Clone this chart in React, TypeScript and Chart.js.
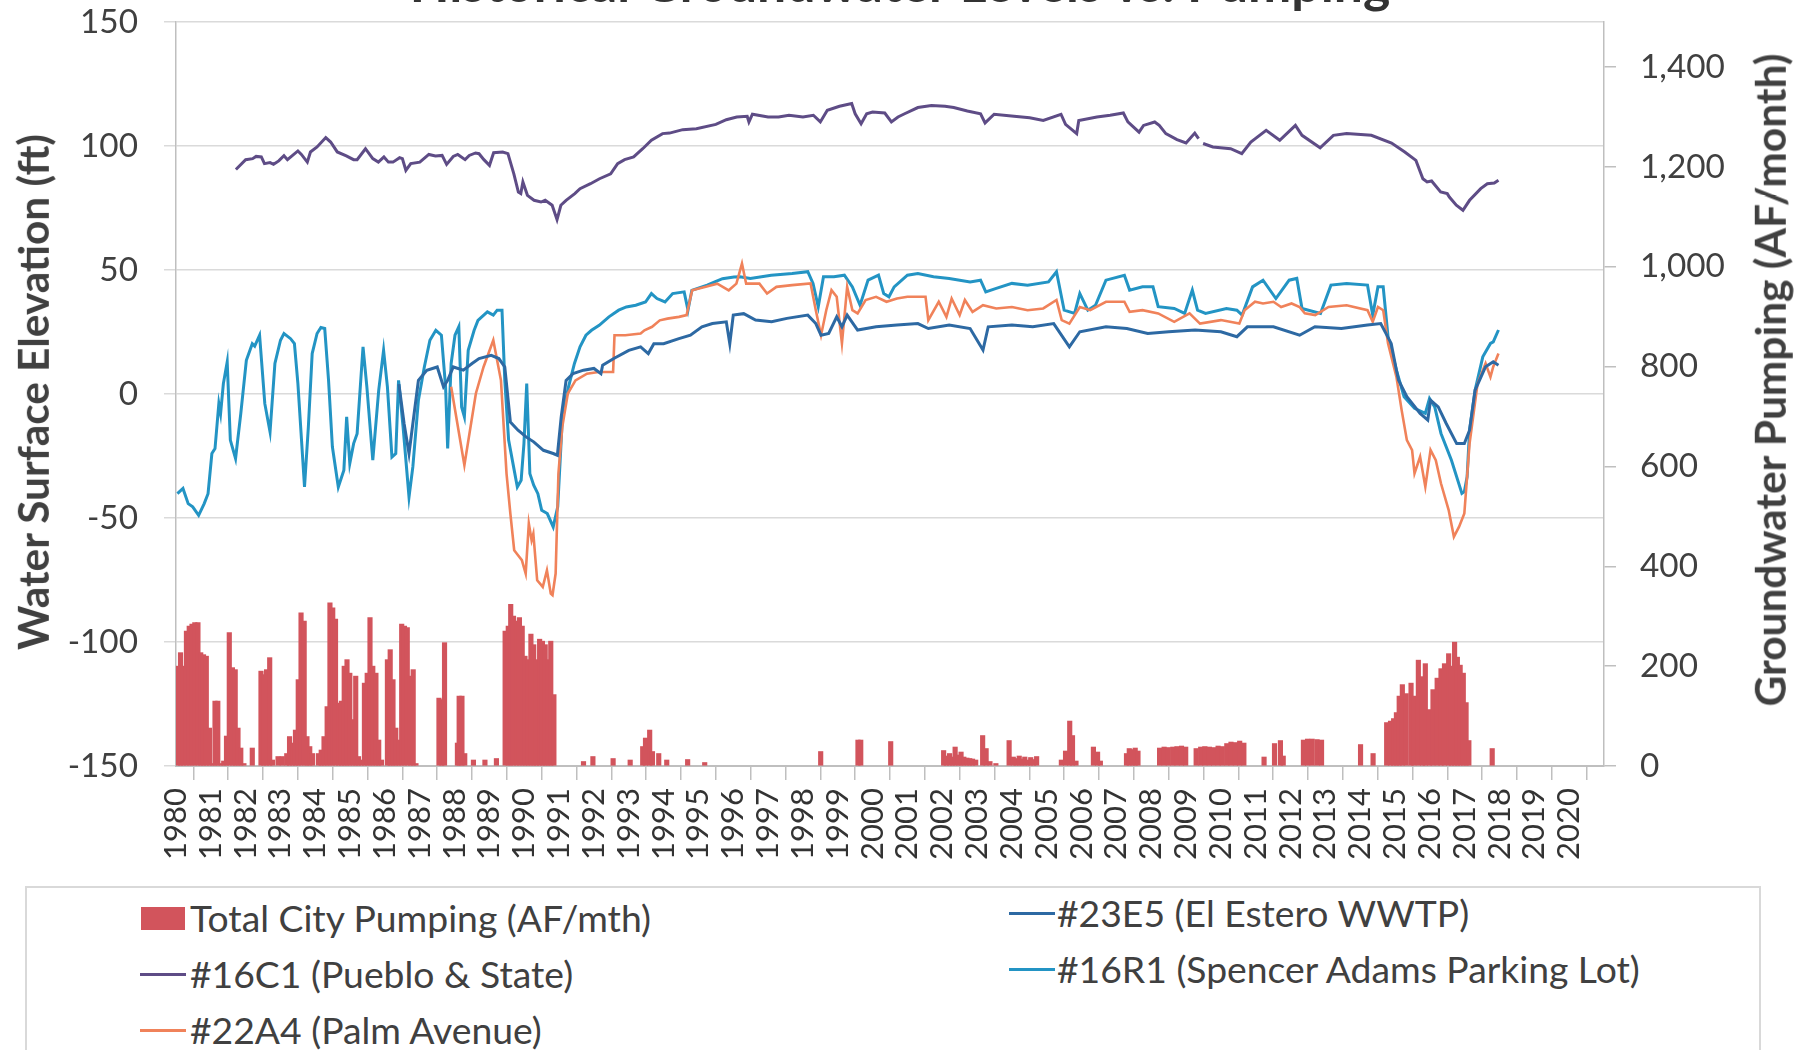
import React, { useEffect, useRef, useState } from 'react';
import { Chart, registerables } from 'chart.js';

Chart.register(...registerables);

// ---------------- DATA ----------------
const yearLabels = [
  1980, 1981, 1982, 1983, 1984, 1985, 1986, 1987, 1988, 1989, 1990, 1991, 1992, 1993,
  1994, 1995, 1996, 1997, 1998, 1999, 2000, 2001, 2002, 2003, 2004, 2005, 2006, 2007,
  2008, 2009, 2010, 2011, 2012, 2013, 2014, 2015, 2016, 2017, 2018, 2019, 2020,
];
const elevationTicks = [-150, -100, -50, 0, 50, 100, 150];
const pumpingTicks = [0, 200, 400, 600, 800, 1000, 1200, 1400];

const chartTitle = 'Historical Groundwater Levels vs. Pumping';
const leftTitle = 'Water Surface Elevation (ft)';
const rightTitle = 'Groundwater Pumping (AF/month)';

const seriesNames = {
  pumping: 'Total City Pumping (AF/mth)',
  w16C1: '#16C1 (Pueblo & State)',
  w22A4: '#22A4 (Palm Avenue)',
  w23E5: '#23E5 (El Estero WWTP)',
  w16R1: '#16R1 (Spencer Adams Parking Lot)',
};

// Total City Pumping (AF/month) : [year, value]
const pumping: [number, number][] = [
  [1980.05, 200], [1980.13, 227], [1980.21, 200], [1980.30, 270], [1980.38, 280], [1980.46, 284],
  [1980.54, 287], [1980.63, 287], [1980.71, 227], [1980.79, 223], [1980.87, 220], [1980.96, 76],
  [1981.04, 5], [1981.12, 130], [1981.20, 130], [1981.29, 5], [1981.37, 10], [1981.45, 60],
  [1981.53, 267], [1981.62, 197], [1981.70, 193], [1981.78, 76], [1981.86, 36], [1981.95, 5],
  [1982.19, 36], [1982.44, 190], [1982.52, 183], [1982.60, 193], [1982.69, 217], [1982.77, 12],
  [1982.93, 19], [1983.05, 19], [1983.18, 25], [1983.26, 59], [1983.35, 46], [1983.43, 72],
  [1983.51, 173], [1983.59, 307], [1983.68, 290], [1983.76, 59], [1983.84, 39], [1983.92, 25],
  [1984.09, 25], [1984.17, 32], [1984.25, 59], [1984.34, 119], [1984.42, 327], [1984.50, 317],
  [1984.58, 294], [1984.67, 126], [1984.75, 130], [1984.83, 200], [1984.91, 213], [1984.99, 186],
  [1985.08, 93], [1985.16, 180], [1985.24, 19], [1985.32, 12], [1985.41, 166], [1985.49, 186],
  [1985.57, 297], [1985.65, 200], [1985.74, 186], [1985.82, 52], [1985.90, 12], [1986.07, 213],
  [1986.15, 233], [1986.23, 173], [1986.31, 76], [1986.40, 52], [1986.48, 284], [1986.56, 280],
  [1986.64, 277], [1986.73, 180], [1986.81, 193], [1986.89, 5], [1987.55, 136], [1987.63, 133],
  [1987.71, 247], [1988.08, 46], [1988.13, 140], [1988.21, 140], [1988.29, 25], [1988.54, 12],
  [1988.87, 12], [1989.20, 15], [1989.45, 270], [1989.54, 280], [1989.61, 324], [1989.69, 300],
  [1989.78, 290], [1989.86, 297], [1989.94, 280], [1990.02, 220], [1990.11, 213], [1990.19, 264],
  [1990.27, 243], [1990.35, 213], [1990.44, 254], [1990.52, 250], [1990.60, 243], [1990.68, 213],
  [1990.76, 250], [1990.85, 143],
  [1991.70, 9], [1991.97, 19], [1992.55, 15], [1993.04, 12], [1993.40, 39], [1993.48, 56],
  [1993.60, 72], [1993.68, 29], [1993.86, 25], [1994.09, 12], [1994.69, 13], [1995.18, 7],
  [1998.51, 29], [1999.58, 52], [1999.66, 52], [2000.52, 49],
  [2002.04, 31], [2002.12, 20], [2002.21, 25], [2002.29, 18], [2002.37, 38], [2002.46, 22],
  [2002.54, 28], [2002.62, 18], [2002.71, 16], [2002.79, 15], [2002.87, 14], [2002.96, 12],
  [2003.16, 61], [2003.26, 35], [2003.37, 9], [2003.54, 5], [2003.92, 51], [2004.04, 18],
  [2004.12, 15], [2004.21, 20], [2004.29, 14], [2004.37, 18], [2004.46, 12], [2004.54, 17],
  [2004.62, 13], [2004.71, 19], [2005.42, 12], [2005.54, 30], [2005.66, 90], [2005.74, 61],
  [2005.84, 10], [2006.34, 38], [2006.46, 28], [2006.54, 10], [2007.29, 25], [2007.37, 35],
  [2007.46, 33], [2007.54, 36], [2007.62, 30], [2008.24, 36], [2008.37, 38], [2008.49, 37],
  [2008.62, 38], [2008.74, 39], [2008.87, 40], [2008.99, 38], [2009.29, 35], [2009.42, 38],
  [2009.54, 39], [2009.67, 38], [2009.79, 37], [2009.92, 40], [2010.04, 39], [2010.17, 45],
  [2010.29, 48], [2010.42, 47], [2010.54, 50], [2010.66, 46], [2011.24, 18], [2011.54, 45],
  [2011.71, 51], [2011.79, 20], [2012.37, 52], [2012.49, 54], [2012.62, 54], [2012.76, 53],
  [2012.89, 52], [2014.01, 43], [2014.37, 25], [2014.76, 87], [2014.87, 90], [2014.96, 95],
  [2015.04, 107], [2015.12, 140], [2015.21, 163], [2015.32, 145], [2015.46, 166], [2015.54, 140],
  [2015.67, 212], [2015.79, 179], [2015.87, 205], [2015.99, 113], [2016.09, 153], [2016.21, 176],
  [2016.32, 195], [2016.42, 205], [2016.54, 225], [2016.62, 200], [2016.71, 248], [2016.79, 218],
  [2016.87, 202], [2016.96, 186], [2017.04, 127], [2017.12, 51], [2017.79, 35],
];

// #16C1 (Pueblo & State) water surface elevation (ft)
const well16C1: [number, number | null][] = [
  [1981.72, 90.5], [1982.0, 94.5], [1982.2, 94.9], [1982.3, 95.8], [1982.45, 95.6], [1982.54, 92.9],
  [1982.7, 93.3], [1982.8, 92.6], [1982.95, 94.0], [1983.1, 96.1], [1983.2, 94.5], [1983.5, 98.0],
  [1983.6, 96.6], [1983.77, 93.5], [1983.86, 97.6], [1984.05, 99.6], [1984.3, 103.4], [1984.44, 101.6],
  [1984.63, 97.6], [1984.89, 96.0], [1985.1, 94.5], [1985.2, 94.5], [1985.44, 98.9], [1985.65, 94.9],
  [1985.81, 93.5], [1985.97, 95.6], [1986.1, 93.5], [1986.23, 93.5], [1986.42, 95.3], [1986.5, 94.9],
  [1986.6, 90.2], [1986.74, 92.9], [1987.0, 93.5], [1987.26, 96.6], [1987.45, 96.0], [1987.64, 96.2],
  [1987.77, 92.6], [1987.96, 95.8], [1988.09, 96.6], [1988.3, 94.5], [1988.42, 96.2], [1988.6, 97.2],
  [1988.7, 96.9], [1988.84, 94.5], [1989.0, 92.2], [1989.12, 97.3], [1989.38, 97.6], [1989.53, 96.9],
  [1989.7, 88.8], [1989.83, 81.4], [1989.9, 80.8], [1989.96, 85.5], [1990.09, 80.1], [1990.28, 78.1],
  [1990.48, 77.4], [1990.6, 78.1], [1990.8, 76.1], [1990.94, 70.3], [1991.05, 76.1], [1991.2, 78.1],
  [1991.45, 80.8], [1991.6, 82.8], [1991.9, 84.8], [1992.16, 86.8], [1992.48, 88.8], [1992.68, 92.9],
  [1992.88, 94.5], [1993.14, 95.6], [1993.4, 98.9], [1993.65, 102.3], [1993.97, 105.0], [1994.17, 105.2],
  [1994.55, 106.6], [1994.94, 107.0], [1995.5, 108.7], [1995.8, 110.6], [1996.1, 111.7], [1996.4, 112.0],
  [1996.45, 109.7], [1996.55, 112.8], [1997.0, 111.7], [1997.3, 111.7], [1997.6, 112.4], [1998.0, 111.7],
  [1998.3, 112.4], [1998.5, 109.7], [1998.7, 114.4], [1999.05, 116.0], [1999.4, 117.1], [1999.5, 113.0],
  [1999.67, 109.0], [1999.83, 113.0], [2000.0, 113.7], [2000.35, 113.3], [2000.54, 109.7], [2000.73, 111.7],
  [2000.92, 113.0], [2001.3, 115.5], [2001.69, 116.3], [2002.08, 116.0], [2002.33, 115.5], [2002.72, 114.1],
  [2003.1, 113.0], [2003.23, 109.3], [2003.49, 112.8], [2004.06, 112.0], [2004.51, 111.4], [2004.9, 110.3],
  [2005.41, 112.8], [2005.54, 108.7], [2005.86, 105.0], [2005.92, 110.3], [2006.44, 111.7], [2006.82, 112.4],
  [2007.2, 113.3], [2007.33, 109.7], [2007.65, 105.6], [2007.78, 108.3], [2008.1, 109.7], [2008.23, 108.3],
  [2008.42, 105.0], [2008.74, 102.6], [2009.0, 101.2], [2009.25, 105.2], [2009.36, 103.0], [2009.42, null],
  [2009.49, 101.0], [2009.77, 99.6], [2010.28, 98.9], [2010.6, 96.9], [2010.86, 101.6], [2011.3, 106.3],
  [2011.69, 102.3], [2012.14, 108.3], [2012.33, 104.3], [2012.85, 99.3], [2013.23, 104.3], [2013.61, 105.0],
  [2014.32, 104.3], [2014.9, 101.2], [2015.28, 97.6], [2015.6, 94.2], [2015.8, 86.8], [2015.92, 85.5],
  [2016.05, 85.9], [2016.31, 81.5], [2016.5, 80.8], [2016.56, 79.4], [2016.76, 76.1], [2016.95, 74.1],
  [2017.14, 78.1], [2017.46, 82.8], [2017.65, 84.8], [2017.85, 85.1], [2017.97, 86.2],
];

// #22A4 (Palm Avenue)
const well22A4: [number, number][] = [
  [1987.9, 2.9], [1988.28, -28.7], [1988.61, 0.2], [1988.83, 10.9], [1989.11, 21.7], [1989.33, 5.5],
  [1989.49, -32.1], [1989.6, -48.2], [1989.71, -63.0], [1989.82, -65.0], [1989.93, -67.0], [1990.04, -72.4],
  [1990.13, -52.2], [1990.21, -59.0], [1990.26, -56.3], [1990.37, -75.1], [1990.53, -77.8], [1990.65, -71.1],
  [1990.76, -80.5], [1990.81, -81.1], [1990.9, -72.4], [1990.98, -32.1], [1991.09, -13.3], [1991.25, 0.2],
  [1991.47, 5.5], [1991.8, 8.2], [1992.13, 8.9], [1992.46, 8.9], [1992.55, 8.9], [1992.59, 23.7],
  [1992.9, 23.7], [1993.34, 24.4], [1993.45, 25.7], [1993.67, 27.1], [1993.89, 29.7], [1994.11, 30.4],
  [1994.44, 31.1], [1994.66, 31.8], [1994.82, 41.8], [1995.21, 43.2], [1995.54, 44.5], [1995.87, 41.8],
  [1996.09, 44.5], [1996.25, 52.6], [1996.37, 44.5], [1996.75, 44.5], [1996.97, 40.5], [1997.24, 43.2],
  [1997.69, 43.9], [1998.22, 44.6], [1998.37, 33.8], [1998.52, 23.7], [1998.67, 33.8], [1998.82, 41.9],
  [1998.97, 39.2], [1999.12, 20.4], [1999.27, 43.2], [1999.42, 33.8], [1999.57, 32.5], [1999.8, 37.9],
  [2000.1, 39.2], [2000.4, 37.2], [2000.7, 38.5], [2001.0, 39.2], [2001.52, 39.2], [2001.6, 29.8],
  [2001.9, 37.2], [2002.12, 31.1], [2002.27, 38.5], [2002.5, 31.8], [2002.65, 37.9], [2002.87, 33.1],
  [2003.17, 35.8], [2003.55, 34.5], [2004.0, 35.1], [2004.45, 33.8], [2004.9, 34.5], [2005.28, 37.9],
  [2005.43, 29.8], [2005.65, 28.4], [2005.95, 35.1], [2006.25, 33.8], [2006.7, 37.2], [2007.23, 37.2],
  [2007.38, 33.1], [2007.75, 33.8], [2008.2, 32.5], [2008.66, 29.1], [2009.1, 32.5], [2009.4, 28.4],
  [2010.0, 29.8], [2010.53, 28.4], [2010.68, 33.8], [2010.98, 37.2], [2011.21, 36.5], [2011.51, 37.2],
  [2011.73, 35.1], [2012.03, 36.5], [2012.26, 35.1], [2012.41, 32.5], [2012.71, 31.8], [2013.09, 35.1],
  [2013.61, 35.8], [2014.21, 33.8], [2014.36, 29.1], [2014.51, 35.1], [2014.66, 33.8], [2014.8, 20.4],
  [2015.04, 6.9], [2015.19, -6.5], [2015.34, -18.6], [2015.49, -22.6], [2015.56, -32.0], [2015.72, -25.3],
  [2015.87, -37.4], [2016.02, -22.6], [2016.17, -26.7], [2016.32, -36.1], [2016.54, -46.8], [2016.69, -57.6],
  [2016.84, -53.5], [2016.99, -48.2], [2017.14, -20.0], [2017.37, 4.2], [2017.6, 12.3], [2017.74, 6.9],
  [2017.82, 11.0], [2017.97, 16.3],
];

// #23E5 (El Estero WWTP)
const well23E5: [number, number][] = [
  [1986.4, 4.0], [1986.55, -12.0], [1986.69, -24.0], [1986.96, 5.5], [1987.2, 9.6], [1987.5, 10.9],
  [1987.68, 2.9], [1987.8, 5.5], [1987.96, 10.9], [1988.25, 9.6], [1988.5, 12.3], [1988.7, 14.3],
  [1989.05, 15.6], [1989.27, 14.3], [1989.44, 10.9], [1989.6, -11.3], [1989.82, -14.6], [1990.05, -17.3],
  [1990.27, -19.3], [1990.55, -22.7], [1990.83, -24.0], [1990.95, -24.7], [1991.06, -9.2], [1991.2, 5.5],
  [1991.4, 8.2], [1991.7, 9.6], [1992.0, 10.3], [1992.2, 8.2], [1992.25, 11.6], [1992.57, 14.3],
  [1993.0, 17.6], [1993.34, 19.0], [1993.56, 16.3], [1993.72, 20.3], [1994.0, 20.3], [1994.44, 22.3],
  [1994.77, 23.7], [1995.1, 27.1], [1995.4, 28.4], [1995.8, 29.1], [1995.9, 20.3], [1996.0, 31.8],
  [1996.3, 32.4], [1996.64, 29.8], [1997.1, 29.1], [1997.54, 30.5], [1998.14, 31.8], [1998.37, 28.4],
  [1998.52, 23.7], [1998.74, 24.4], [1998.97, 31.1], [1999.12, 27.1], [1999.27, 31.8], [1999.57, 25.8],
  [2000.1, 27.1], [2000.7, 27.8], [2001.3, 28.4], [2001.6, 26.4], [2002.2, 27.8], [2002.8, 26.4],
  [2003.17, 17.7], [2003.32, 27.1], [2004.0, 27.8], [2004.6, 27.1], [2005.2, 28.4], [2005.65, 19.0],
  [2005.95, 25.1], [2006.7, 27.1], [2007.3, 26.4], [2007.9, 24.4], [2008.5, 25.1], [2009.26, 25.8],
  [2010.0, 25.1], [2010.46, 23.1], [2010.76, 27.1], [2011.51, 27.1], [2012.26, 23.7], [2012.7, 27.1],
  [2013.46, 26.4], [2014.21, 27.8], [2014.59, 28.4], [2014.89, 20.4], [2015.04, 9.6], [2015.1, 5.6],
  [2015.34, -1.1], [2015.72, -7.8], [2015.94, -10.5], [2016.02, -2.5], [2016.24, -5.2], [2016.47, -11.9],
  [2016.77, -20.0], [2016.99, -20.0], [2017.14, -14.6], [2017.3, 1.6], [2017.6, 11.0], [2017.82, 13.0],
  [2017.97, 11.6],
];

// #16R1 (Spencer Adams Parking Lot)
const well16R1: [number, number][] = [
  [1980.04, -40.2], [1980.2, -38.1], [1980.35, -44.2], [1980.48, -45.5], [1980.65, -48.9], [1980.81, -44.2],
  [1980.92, -40.2], [1981.03, -24.0], [1981.12, -22.0], [1981.23, -3.9], [1981.28, -7.9], [1981.36, 4.2],
  [1981.47, 12.9], [1981.56, -18.6], [1981.71, -26.0], [1981.86, -7.9], [1982.02, 13.6], [1982.19, 20.3],
  [1982.26, 19.3], [1982.4, 23.7], [1982.55, -3.9], [1982.7, -15.3], [1982.84, 12.3], [1983.0, 21.7],
  [1983.1, 24.4], [1983.29, 22.3], [1983.4, 20.3], [1983.5, 4.2], [1983.69, -37.5], [1983.8, -13.3],
  [1983.91, 16.3], [1984.05, 24.4], [1984.16, 26.8], [1984.27, 26.4], [1984.38, 5.5], [1984.49, -21.3],
  [1984.66, -37.5], [1984.82, -30.7], [1984.9, -9.2], [1984.99, -28.0], [1985.1, -20.0], [1985.2, -16.0],
  [1985.37, 19.0], [1985.48, 2.9], [1985.65, -26.7], [1985.82, 1.5], [1985.96, 17.6], [1986.07, 2.9],
  [1986.2, -25.4], [1986.31, -24.0], [1986.39, 5.5], [1986.52, -13.3], [1986.69, -41.5], [1986.8, -29.4],
  [1986.96, -2.5], [1987.13, 10.9], [1987.29, 21.7], [1987.46, 25.7], [1987.62, 23.7], [1987.74, 2.9],
  [1987.8, -22.0], [1987.9, 12.3], [1988.01, 23.7], [1988.12, 27.1], [1988.2, -5.2], [1988.28, -9.2],
  [1988.39, 17.6], [1988.56, 25.7], [1988.67, 29.7], [1988.78, 31.1], [1988.94, 33.1], [1989.11, 31.8],
  [1989.22, 33.8], [1989.36, 33.8], [1989.44, 5.5], [1989.55, -18.6], [1989.71, -30.7], [1989.8, -37.5],
  [1989.91, -34.8], [1989.99, -20.0], [1990.07, 4.2], [1990.16, -32.1], [1990.27, -36.8], [1990.39, -40.2],
  [1990.5, -46.9], [1990.66, -48.2], [1990.83, -53.6], [1990.96, -45.5], [1991.1, -7.9], [1991.27, 2.9],
  [1991.44, 12.3], [1991.6, 19.0], [1991.77, 23.7], [1991.93, 25.7], [1992.15, 27.7], [1992.43, 31.1],
  [1992.71, 33.8], [1992.93, 35.1], [1993.2, 35.8], [1993.48, 37.1], [1993.65, 40.5], [1993.81, 38.5],
  [1994.04, 37.1], [1994.26, 40.5], [1994.59, 41.2], [1994.7, 33.8], [1994.81, 41.8], [1995.25, 43.9],
  [1995.47, 45.2], [1995.69, 46.5], [1996.02, 47.2], [1996.19, 47.3], [1996.49, 46.6], [1997.09, 47.9],
  [1997.69, 48.6], [1998.14, 49.3], [1998.29, 44.6], [1998.44, 35.2], [1998.59, 47.3], [1998.89, 47.3],
  [1999.19, 47.9], [1999.42, 43.2], [1999.64, 35.8], [1999.87, 45.9], [2000.17, 47.9], [2000.32, 40.5],
  [2000.47, 39.2], [2000.62, 43.2], [2001.0, 47.9], [2001.3, 48.6], [2001.75, 47.3], [2002.2, 46.6],
  [2002.8, 45.2], [2003.1, 45.9], [2003.25, 41.2], [2003.55, 42.6], [2004.0, 44.6], [2004.45, 43.9],
  [2005.05, 45.2], [2005.28, 49.3], [2005.5, 33.8], [2005.8, 32.5], [2005.95, 40.5], [2006.18, 33.8],
  [2006.4, 35.8], [2006.7, 45.9], [2007.23, 47.9], [2007.38, 41.9], [2007.75, 43.2], [2008.05, 43.2],
  [2008.2, 35.2], [2008.66, 34.5], [2008.96, 32.5], [2009.18, 41.9], [2009.33, 33.8], [2009.56, 32.5],
  [2010.16, 34.5], [2010.46, 33.8], [2010.61, 31.8], [2010.91, 43.2], [2011.21, 45.9], [2011.58, 38.5],
  [2011.96, 45.9], [2012.18, 46.6], [2012.33, 34.5], [2012.86, 32.5], [2013.16, 43.9], [2013.61, 44.6],
  [2014.21, 43.9], [2014.36, 31.8], [2014.51, 43.2], [2014.66, 43.2], [2014.8, 23.0], [2015.04, 9.6],
  [2015.26, -1.1], [2015.56, -5.8], [2015.87, -7.8], [2015.99, -1.8], [2016.14, -5.2], [2016.32, -15.9],
  [2016.62, -26.7], [2016.92, -40.1], [2016.99, -39.4], [2017.07, -33.4], [2017.14, -14.6], [2017.3, 1.6],
  [2017.52, 15.0], [2017.74, 20.4], [2017.82, 21.0], [2017.97, 25.8],
];

// ---------------- STYLE ----------------
const W = 1810;
const H_CANVAS = 880;
const PLOT_LEFT = 176;
const PLOT_RIGHT = 1604;
const PLOT_TOP = 22;
const PLOT_BOTTOM = 766;

const COLORS = {
  bar: '#D2545C',
  w16C1: '#5E4C86',
  w22A4: '#F0825A',
  w23E5: '#2D69A3',
  w16R1: '#2394C4',
  text: '#404040',
  grid: '#dadada',
  axis: '#bfbfbf',
};

const FAMILY = 'Lato';

function fitSize(text: string, weight: string, target: number): number {
  const c = document.createElement('canvas').getContext('2d');
  if (!c) return 30;
  c.font = `${weight} 100px ${FAMILY}`;
  const w = c.measureText(text).width;
  return (100 * target) / w;
}

const toXY = (arr: [number, number | null][]) => arr.map(([x, y]) => ({ x, y }));

const noVerticalPadding = (s: any) => {
  s.paddingTop = 0;
  s.paddingBottom = 0;
};

export default function App() {
  const canvasRef = useRef<HTMLCanvasElement | null>(null);
  const [sizes, setSizes] = useState<Record<string, number> | null>(null);

  useEffect(() => {
    document.body.style.margin = '0';
    document.body.style.overflow = 'hidden';
    document.body.style.background = '#ffffff';
    const legendTargets: [string, number][] = [
      [seriesNames.pumping, 472],
      [seriesNames.w16C1, 384],
      [seriesNames.w22A4, 356],
      [seriesNames.w23E5, 400],
      [seriesNames.w16R1, 585],
    ];
    const legend =
      legendTargets.reduce((s, [t, w]) => s + fitSize(t, 'normal', w), 0) / legendTargets.length;
    setSizes({
      title: fitSize(chartTitle, 'bold', 983),
      left: fitSize(leftTitle, 'bold', 517),
      right: fitSize(rightTitle, 'bold', 654),
      legend,
      xTick: fitSize('1980', 'normal', 72),
      yTick: fitSize('150', 'normal', 58),
    });
  }, []);

  useEffect(() => {
    if (!sizes || !canvasRef.current) return;
    const chart = new Chart(canvasRef.current, {
      type: 'line',
      data: {
        datasets: [
          {
            type: 'bar',
            label: seriesNames.pumping,
            data: toXY(pumping) as any,
            yAxisID: 'y2',
            xAxisID: 'x',
            backgroundColor: COLORS.bar,
            borderWidth: 0,
            barThickness: 4.5,
            grouped: false,
            order: 10,
          } as any,
          {
            label: seriesNames.w16C1,
            data: toXY(well16C1) as any,
            yAxisID: 'y',
            borderColor: COLORS.w16C1,
            borderWidth: 3,
            pointRadius: 0,
            spanGaps: false,
            order: 1,
          },
          {
            label: seriesNames.w22A4,
            data: toXY(well22A4) as any,
            yAxisID: 'y',
            borderColor: COLORS.w22A4,
            borderWidth: 2.6,
            pointRadius: 0,
            order: 3,
          },
          {
            label: seriesNames.w23E5,
            data: toXY(well23E5) as any,
            yAxisID: 'y',
            borderColor: COLORS.w23E5,
            borderWidth: 3,
            pointRadius: 0,
            order: 2,
          },
          {
            label: seriesNames.w16R1,
            data: toXY(well16R1) as any,
            yAxisID: 'y',
            borderColor: COLORS.w16R1,
            borderWidth: 3,
            pointRadius: 0,
            order: 4,
          },
        ],
      },
      options: {
        responsive: false,
        animation: false,
        devicePixelRatio: 1,
        layout: { padding: { top: PLOT_TOP, left: 0, right: 0, bottom: 0 } },
        plugins: {
          legend: { display: false },
          tooltip: { enabled: false },
          title: { display: false },
        },
        elements: { line: { tension: 0 } },
        scales: {
          x: {
            type: 'linear',
            min: 1980,
            max: 2021,
            offset: false,
            afterBuildTicks: (s: any) => {
              s.ticks = yearLabels.map((v) => ({ value: v }));
            },
            afterFit: (s: any) => {
              s.height = H_CANVAS - PLOT_BOTTOM;
            },
            ticks: {
              autoSkip: false,
              minRotation: 90,
              maxRotation: 90,
              padding: 8,
              color: '#333333',
              font: { family: FAMILY, size: sizes.xTick },
              callback: (v: any) => String(v),
            },
            grid: {
              drawOnChartArea: false,
              drawTicks: true,
              tickLength: 14,
              color: COLORS.axis,
              lineWidth: 1.5,
            },
            border: { display: true, color: COLORS.axis, width: 2 },
          },
          y: {
            type: 'linear',
            position: 'left',
            min: -150,
            max: 150,
            afterBuildTicks: (s: any) => {
              s.ticks = elevationTicks.map((v) => ({ value: v }));
            },
            afterFit: (s: any) => {
              s.width = PLOT_LEFT;
              noVerticalPadding(s);
            },
            ticks: {
              padding: 26,
              color: COLORS.text,
              font: { family: FAMILY, size: sizes.yTick },
              callback: (v: any) => String(v),
            },
            grid: {
              color: COLORS.grid,
              lineWidth: 1.5,
              tickLength: 12,
              drawTicks: true,
            },
            border: { display: true, color: COLORS.axis, width: 1.5 },
          },
          y2: {
            type: 'linear',
            position: 'right',
            min: 0,
            max: 1490,
            afterBuildTicks: (s: any) => {
              s.ticks = pumpingTicks.map((v) => ({ value: v }));
            },
            afterFit: (s: any) => {
              s.width = W - PLOT_RIGHT;
              noVerticalPadding(s);
            },
            ticks: {
              padding: 24,
              color: COLORS.text,
              font: { family: FAMILY, size: sizes.yTick },
              callback: (v: any) => Number(v).toLocaleString('en-US'),
            },
            grid: {
              drawOnChartArea: false,
              drawTicks: true,
              tickLength: 12,
              color: COLORS.axis,
              lineWidth: 1.5,
            },
            border: { display: true, color: COLORS.axis, width: 1.5 },
          },
        },
      } as any,
    });
    return () => chart.destroy();
  }, [sizes]);

  const s = sizes;
  const legendText = (left: number, cy: number): React.CSSProperties => ({
    position: 'absolute',
    left,
    top: cy,
    transform: 'translateY(-50%)',
    whiteSpace: 'nowrap',
    lineHeight: 1,
    fontFamily: FAMILY,
    fontSize: s ? s.legend : 34,
    color: COLORS.text,
  });
  const lineSwatch = (left: number, cy: number, color: string): React.CSSProperties => ({
    position: 'absolute',
    left,
    top: cy - 1.5,
    width: 46,
    height: 3,
    background: color,
  });

  return (
    <div
      style={{
        position: 'relative',
        width: W,
        height: 1050,
        overflow: 'hidden',
        background: '#ffffff',
        fontFamily: FAMILY,
      }}
    >
      {s && (
        <div
          style={{
            position: 'absolute',
            left: 900,
            top: 3 - 0.887 * s.title,
            transform: 'translateX(-50%)',
            whiteSpace: 'nowrap',
            lineHeight: 1,
            fontSize: s.title,
            fontWeight: 'bold',
            color: '#333333',
          }}
        >
          {chartTitle}
        </div>
      )}
      <canvas
        ref={canvasRef}
        width={W}
        height={H_CANVAS}
        style={{ position: 'absolute', left: 0, top: 0, width: W, height: H_CANVAS }}
      />
      {s && (
        <>
          <div
            style={{
              position: 'absolute',
              left: 33,
              top: 392,
              transform: 'translate(-50%, -50%) rotate(-90deg)',
              whiteSpace: 'nowrap',
              lineHeight: 1,
              fontSize: s.left,
              fontWeight: 'bold',
              color: COLORS.text,
            }}
          >
            {leftTitle}
          </div>
          <div
            style={{
              position: 'absolute',
              left: 1770,
              top: 380,
              transform: 'translate(-50%, -50%) rotate(-90deg)',
              whiteSpace: 'nowrap',
              lineHeight: 1,
              fontSize: s.right,
              fontWeight: 'bold',
              color: COLORS.text,
            }}
          >
            {rightTitle}
          </div>
          <div
            style={{
              position: 'absolute',
              left: 25,
              top: 886,
              width: 1736,
              height: 220,
              border: '2px solid #d9d9d9',
              boxSizing: 'border-box',
              background: '#ffffff',
            }}
          />
          <div
            style={{
              position: 'absolute',
              left: 141,
              top: 907,
              width: 44,
              height: 23,
              background: COLORS.bar,
            }}
          />
          <div style={legendText(190, 918)}>{seriesNames.pumping}</div>
          <div style={lineSwatch(140, 974, COLORS.w16C1)} />
          <div style={legendText(190, 974)}>{seriesNames.w16C1}</div>
          <div style={lineSwatch(140, 1030, COLORS.w22A4)} />
          <div style={legendText(190, 1030)}>{seriesNames.w22A4}</div>
          <div style={lineSwatch(1009, 913, COLORS.w23E5)} />
          <div style={legendText(1057, 913)}>{seriesNames.w23E5}</div>
          <div style={lineSwatch(1009, 969, COLORS.w16R1)} />
          <div style={legendText(1057, 969)}>{seriesNames.w16R1}</div>
        </>
      )}
    </div>
  );
}
